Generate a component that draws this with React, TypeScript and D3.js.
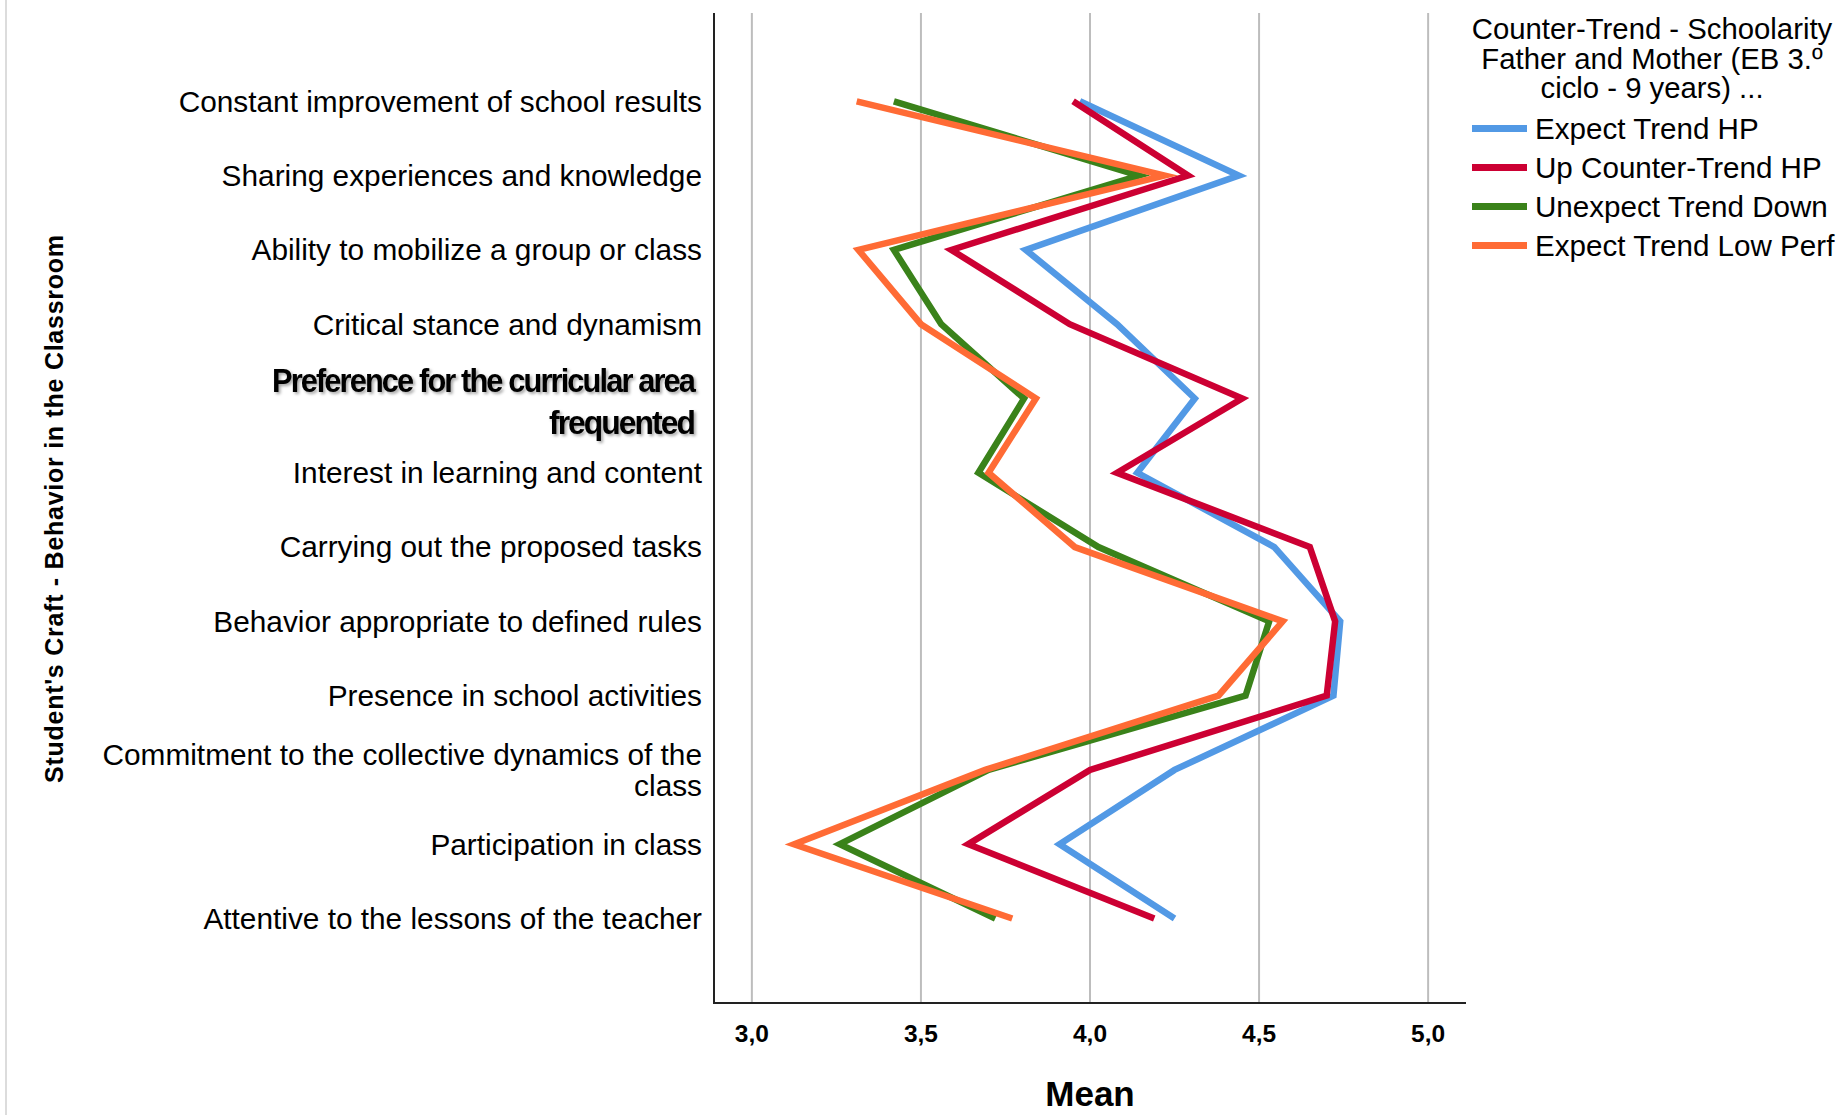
import React from "react";
import * as d3 from "d3";

const categories = [
  "Constant improvement of school results",
  "Sharing experiences and knowledge",
  "Ability to mobilize a group or class",
  "Critical stance and dynamism",
  "Preference for the curricular area\nfrequented",
  "Interest in learning and content",
  "Carrying out the proposed tasks",
  "Behavior appropriate to defined rules",
  "Presence in school activities",
  "Commitment to the collective dynamics of the\nclass",
  "Participation in class",
  "Attentive to the lessons of the teacher",
];

const expectTrendHP = [3.97, 4.44, 3.81, 4.08, 4.31, 4.14, 4.545, 4.74, 4.72, 4.25, 3.91, 4.25];
const upCounterTrendHP = [3.95, 4.29, 3.59, 3.94, 4.45, 4.08, 4.65, 4.725, 4.7, 4.0, 3.64, 4.19];
const unexpectTrendDown = [3.42, 4.145, 3.42, 3.56, 3.805, 3.67, 4.025, 4.53, 4.46, 3.7, 3.26, 3.72];
const expectTrendLowPerf = [3.31, 4.22, 3.315, 3.5, 3.84, 3.7, 3.955, 4.57, 4.38, 3.69, 3.125, 3.77];

const seriesNames = ["Expect Trend HP", "Up Counter-Trend HP", "Unexpect Trend Down", "Expect Trend Low Perf"];
const seriesColors = ["#5299E5", "#CC0033", "#3A821A", "#FF6B35"];
const seriesValues = [expectTrendHP, upCounterTrendHP, unexpectTrendDown, expectTrendLowPerf];

const xTicks = [3, 3.5, 4, 4.5, 5];
const xTickLabels = ["3,0", "3,5", "4,0", "4,5", "5,0"];

const legendTitle = ["Counter-Trend - Schoolarity", "Father and Mother (EB 3.º", "ciclo - 9 years) ..."];
const xAxisTitle = "Mean";
const yAxisTitle = "Student's Craft - Behavior in the Classroom";
const highlightedCategory = categories[4];

const W = 1847;
const H = 1115;
const plotLeft = 714;
const plotRight = 1466;
const plotTop = 13;
const plotBottom = 1003;

export default function App() {
  const x = d3.scaleLinear().domain([2.888, 5.112]).range([plotLeft, plotRight]);
  const y = d3.scalePoint<string>().domain(categories).range([101.3, 918.5]);

  const line = d3
    .line<number>()
    .x((d) => x(d))
    .y((_, i) => y(categories[i]) as number);

  const font = "'Liberation Sans', Arial, sans-serif";

  return (
    <svg
      width={W}
      height={H}
      style={{ position: "absolute", left: 0, top: 0, background: "#fff" }}
      fontFamily={font}
    >
      <defs>
        <filter id="shadow" x="-5%" y="-30%" width="110%" height="160%">
          <feDropShadow dx="2" dy="2" stdDeviation="1.5" floodColor="#000" floodOpacity="0.35" />
        </filter>
      </defs>
      <rect x={0} y={0} width={W} height={H} fill="#fff" />
      <line x1={6} x2={6} y1={0} y2={H} stroke="#d0d0d0" strokeWidth={1.5} />

      {/* gridlines */}
      {xTicks.map((t) => (
        <line key={"g" + t} x1={x(t)} x2={x(t)} y1={plotTop} y2={plotBottom} stroke="#bdbdbd" strokeWidth={2} />
      ))}

      {/* axes */}
      <line x1={plotLeft} x2={plotLeft} y1={plotTop} y2={plotBottom + 1} stroke="#222" strokeWidth={2} />
      <line x1={plotLeft} x2={plotRight} y1={plotBottom} y2={plotBottom} stroke="#222" strokeWidth={2} />

      {/* tick labels */}
      {xTicks.map((t, i) => (
        <text key={"t" + t} x={x(t)} y={1042} textAnchor="middle" fontSize={24.5} fontWeight="bold" fill="#000">
          {xTickLabels[i]}
        </text>
      ))}

      <text x={x(4)} y={1106} textAnchor="middle" fontSize={35} fontWeight="bold" fill="#000">
        {xAxisTitle}
      </text>

      <text
        transform={`translate(54, ${(235 + 783) / 2}) rotate(-90)`}
        textAnchor="middle"
        dy="0.35em"
        fontSize={25}
        fontWeight="bold"
        textLength={548}
        lengthAdjust="spacing"
        fill="#000"
      >
        {yAxisTitle}
      </text>

      {/* category labels */}
      {categories.map((c) => {
        const lines = c.split("\n");
        const cy = y(c) as number;
        const hi = c === highlightedCategory;
        const gap = hi ? 42 : 30.5;
        const off = -((lines.length - 1) * gap) / 2 + (hi ? 2.5 : 0);
        return lines.map((l, j) =>
          hi ? (
            <text
              key={c + j}
              x={694}
              y={cy + off + j * gap}
              dy="0.35em"
              textAnchor="end"
              fontSize={33}
              fontWeight="bold"
              letterSpacing={-2}
              fill="#000"
              filter="url(#shadow)"
              textLength={j === 0 ? 422 : 145}
              lengthAdjust="spacingAndGlyphs"
            >
              {l}
            </text>
          ) : (
            <text key={c + j} x={702} y={cy + off + j * gap} dy="0.35em" textAnchor="end" fontSize={29.8} fill="#000">
              {l}
            </text>
          )
        );
      })}

      {/* series lines */}
      {seriesValues.map((vals, k) => (
        <path
          key={seriesNames[k]}
          d={line(vals) || ""}
          fill="none"
          stroke={seriesColors[k]}
          strokeWidth={6.5}
          strokeLinejoin="miter"
          strokeMiterlimit={10}
        />
      ))}

      {/* legend */}
      {legendTitle.map((t, i) => (
        <text key={"lt" + i} x={1652} y={39 + i * 29.5} textAnchor="middle" fontSize={29.3} fill="#000">
          {t}
        </text>
      ))}
      {seriesNames.map((n, i) => {
        const ly = 128.5 + i * 39;
        return (
          <g key={"l" + n}>
            <line x1={1472} x2={1527} y1={ly} y2={ly} stroke={seriesColors[i]} strokeWidth={7} />
            <text x={1535} y={ly} dy="0.35em" fontSize={29.6} fill="#000">
              {n}
            </text>
          </g>
        );
      })}
    </svg>
  );
}
